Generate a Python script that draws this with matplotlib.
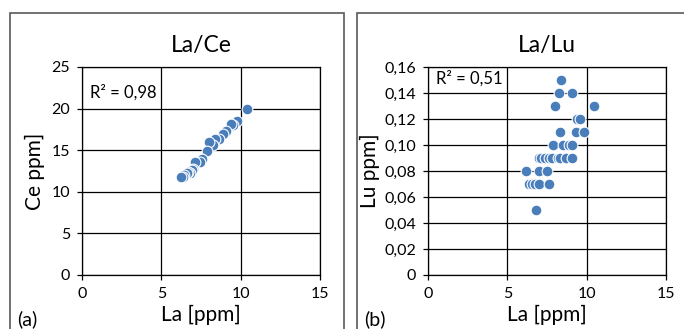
import matplotlib
matplotlib.use("Agg")
import matplotlib.pyplot as plt
from matplotlib.patches import Rectangle

plt.rcParams['font.family'] = ['Lato', 'DejaVu Sans']

# panel (a): La vs Ce
la_a = [10.4, 9.79, 9.54, 9.37, 9.07, 8.87, 8.65, 8.38, 8.23, 8.02, 7.86, 7.54,
        7.44, 7.12, 7.01, 6.91, 6.80, 6.70, 6.60, 6.43, 6.38, 6.22]
ce_a = [19.9, 18.5, 18.0, 18.2, 17.3, 17.0, 16.4, 16.3, 15.6, 16.0, 14.9, 14.0,
        13.6, 13.6, 12.8, 12.6, 12.2, 12.4, 12.2, 12.0, 11.8, 11.8]

# panel (b): La vs Lu
la_b = [8.40, 8.27, 9.07, 8.02, 10.44, 9.39, 9.60, 8.30, 9.35, 9.81,
        7.88, 8.49, 8.87, 9.07, 6.98, 7.12, 7.39, 7.60, 7.81, 8.20, 8.30,
        8.72, 9.07, 6.20, 6.98, 7.50, 6.35, 6.55, 6.72, 7.01, 7.60, 6.80]
lu_b = [0.15, 0.14, 0.14, 0.13, 0.13, 0.12, 0.12, 0.11, 0.11, 0.11,
        0.10, 0.10, 0.10, 0.10, 0.09, 0.09, 0.09, 0.09, 0.09, 0.09, 0.09,
        0.09, 0.09, 0.08, 0.08, 0.08, 0.07, 0.07, 0.07, 0.07, 0.07, 0.05]

W, H = 684, 329
fig = plt.figure(figsize=(W / 100, H / 100), dpi=100)


def box(x0, y0, x1, y1):
    # pixel coords (top-left origin) -> figure fraction
    return [x0 / W, 1 - y1 / H, (x1 - x0) / W, (y1 - y0) / H]


# panel frames
for x0, x1 in [(10, 344), (357, 700)]:
    fig.add_artist(Rectangle((x0 / W, -0.1), (x1 - x0) / W, 1.1 - 13 / H,
                             transform=fig.transFigure, fill=False,
                             edgecolor='#595959', linewidth=1.2))

blue = '#4a7ebb'
TICK = 11.5
LAB = 15
TITLE = 16.5


def style(ax):
    ax.grid(True, color='black', linewidth=0.9)
    ax.set_axisbelow(True)
    for s in ax.spines.values():
        s.set_color('black')
        s.set_linewidth(0.9)
    ax.tick_params(length=3.5, width=0.9, labelsize=TICK, pad=5, direction='out')
    ax.set_xlim(0, 15)
    ax.set_xticks([0, 5, 10, 15])


ax1 = fig.add_axes(box(82, 67, 320, 275))
ax1.scatter(la_a, ce_a, s=60, color=blue, edgecolors='white', linewidths=0.8, zorder=3)
style(ax1)
ax1.set_ylim(0, 25)
ax1.set_yticks([0, 5, 10, 15, 20, 25])
ax1.set_title('La/Ce', fontsize=TITLE, pad=11)
ax1.set_xlabel('La [ppm]', fontsize=LAB, labelpad=3)
ax1.set_ylabel('Ce ppm]', fontsize=LAB)
ax1.yaxis.set_label_coords(-0.155, 0.5)
ax1.text(0.5, 22.0, 'R² = 0,98', fontsize=12, va='center')

ax2 = fig.add_axes(box(428, 67, 666, 275))
ax2.scatter(la_b, lu_b, s=60, color=blue, edgecolors='white', linewidths=0.8, zorder=3)
style(ax2)
ax2.set_ylim(0, 0.16)
yt = [i * 0.02 for i in range(9)]
ax2.set_yticks(yt)
ax2.set_yticklabels(['0'] + [f'{v:.2f}'.replace('.', ',') for v in yt[1:]])
ax2.set_title('La/Lu', fontsize=TITLE, pad=11)
ax2.set_xlabel('La [ppm]', fontsize=LAB, labelpad=3)
ax2.set_ylabel('Lu ppm]', fontsize=LAB)
ax2.yaxis.set_label_coords(-0.2, 0.5)
ax2.text(0.5, 0.151, 'R² = 0,51', fontsize=12, va='center')

fig.text(17 / W, 1 - 319 / H, '(a)', fontsize=14, va='center')
fig.text(364 / W, 1 - 319 / H, '(b)', fontsize=14, va='center')

fig.savefig('out.png', dpi=100)
